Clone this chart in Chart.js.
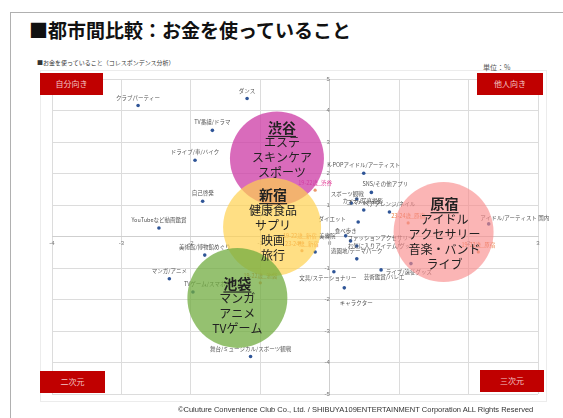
<!DOCTYPE html>
<html>
<head>
<meta charset="utf-8">
<script src="https://cdn.jsdelivr.net/npm/chart.js@4/dist/chart.umd.min.js"></script>
<style>
    html, body { margin: 0; padding: 0; background: #fff; }
    body { width: 563px; height: 418px; position: relative; overflow: hidden; font-family: "Noto Sans CJK JP", "Noto Sans", sans-serif; }
    #frame { position: absolute; left: 10px; top: 12px; width: 620px; height: 440px; border: 1px solid #b0b0b0; }
    #inner { position: absolute; left: 40px; top: 70px; width: 505px; height: 330px; border: 1px solid #ececec; }
    #diagram { position: absolute; left: 0; top: 0; }
    h1 { position: absolute; left: 29px; top: 16px; margin: 0; font-size: 19px; font-weight: bold; color: #111; white-space: nowrap; }
    .sub { position: absolute; left: 37px; top: 58px; font-size: 6px; color: #333; white-space: nowrap; }
    .unit { position: absolute; left: 483px; top: 62px; font-size: 7px; color: #555; }
    .tag { position: absolute; width: 63px; height: 22px; background: #c00000; color: #f3c6c6; font-size: 8px; line-height: 22px; text-align: center; }
    .copy { position: absolute; left: 178px; top: 405px; font-size: 7.5px; color: #333; white-space: nowrap; font-family: "Liberation Sans", Arial, sans-serif; }
</style>
</head>
<body>
<div id="frame"></div>
<div id="inner"></div>
<h1>■都市間比較：お金を使っていること</h1>
<div class="sub">■お金を使っていること（コレスポンデンス分析）</div>
<div class="unit">単位：%</div>
<canvas id="diagram" width="563" height="418"></canvas>
<div class="tag" style="left:40px;top:73px">自分向き</div>
<div class="tag" style="left:477px;top:73px;width:66px">他人向き</div>
<div class="tag" style="left:40px;top:371px;width:65px">二次元</div>
<div class="tag" style="left:480px;top:370px;width:64px">三次元</div>
<div class="copy">©Culuture Convenience Club Co., Ltd. / SHIBUYA109ENTERTAINMENT Corporation ALL Rights Reserved</div>
<script>
    // spending items (blue points)
    const itemLabels = [
        "クラブパーティー", "ダンス", "TV番組/ドラマ", "ドライブ/車/バイク", "自己啓発",
        "YouTubeなど動画鑑賞", "美術館/博物館めぐり", "マンガ/アニメ", "TVゲーム/スマホゲーム", "舞台/ミュージカル/スポーツ観戦",
        "K-POPアイドル/アーティスト", "SNS/その他アプリ", "スポーツ観戦", "カメラ/写真撮影", "ヘアアレンジ/ネイル",
        "コスメ/メイク", "ダイエット", "食べ歩き", "ファッションアクセサリー", "お気に入りアイテム/グッズ",
        "遊園地/テーマパーク", "文具/ステーショナリー", "芸術鑑賞/バレエ", "キャラクター", "ライブ/遠征グッズ",
        "アイドル/アーティスト 国内", "美容院"
    ];
    const itemX = [-2.76, -1.19, -1.69, -1.94, -1.83, -2.46, -1.80, -2.31, -1.97, -1.14,
        0.49, 0.60, 0.31, 0.39, 0.86, 0.49, 0.41, 0.23, 0.30, 0.39, 0.39, 0.06, 0.74, 0.21, 1.17, 2.29, -0.21];
    const itemY = [4.16, 4.38, 3.37, 2.42, 1.12, 0.27, -0.59, -1.34, -1.76, -3.81,
        2.01, 1.40, 1.06, 1.19, 0.78, 0.84, 0.46, 0.02, -0.14, -0.30, -0.71, -1.12, -1.06, -1.63, -0.86, 0.40, -0.49];

    // age x city points
    const groupLabels = ["19-22歳_渋谷", "19-22歳_新宿", "23-24歳_新宿", "19-22歳_池袋", "23-24歳_原宿", "19-22歳_原宿"];
    const groupX = [-0.21, -0.43, -0.40, -1.00, 1.13, 2.14];
    const groupY = [1.47, -0.20, -0.45, -1.47, 0.43, -0.49];

    // city circles
    const cityNames = ["渋谷", "新宿", "池袋", "原宿"];
    const cityX = [-0.76, -0.83, -1.33, 1.64];
    const cityY = [2.48, 0.30, -1.95, 0.14];
    const cityWords = [
        ["エステ", "スキンケア", "スポーツ"],
        ["健康食品", "サプリ", "映画", "旅行"],
        ["マンガ", "アニメ", "TVゲーム"],
        ["アイドル", "アクセサリー", "音楽・バンド", "ライブ"]
    ];

    const xRange = [-4, 3];
    const yRange = [-5, 5];

    // styles
    const circleRadius = [47, 49, 50, 50];
    const circleColors = ['rgba(205,60,165,0.76)', 'rgba(255,210,80,0.7)', 'rgba(112,172,62,0.74)', 'rgba(248,140,140,0.64)'];
    const textShift = { "渋谷": [5, -8], "新宿": [1, -2], "池袋": [0, 8], "原宿": [1, 2] };
    const labelShift = {
        "TVゲーム/スマホゲーム": [20, -8],
        "ダイエット": [-26, -3],
        "ファッションアクセサリー": [30, -3],
        "お気に入りアイテム/グッズ": [25, 0],
        "文具/ステーショナリー": [-6, 6],
        "芸術鑑賞/バレエ": [3, 7],
        "キャラクター": [12, 15],
        "ライブ/遠征グッズ": [-2, 8],
        "アイドル/アーティスト 国内": [26, -6],
        "SNS/その他アプリ": [14, -8],
        "美容院": [12, -16],
        "スポーツ観戦": [-4, -9],
        "カメラ/写真撮影": [6, 2],
        "食べ歩き": [0, -5]
    };

    const labelPlugin = {
        id: 'labels',
        beforeDatasetDraw(chart, args) {
            if (args.index !== 2) return;
            const ctx = chart.ctx;
            ctx.save();
            ctx.textAlign = 'center';
            ctx.textBaseline = 'middle';
            ctx.font = '5.5px "Noto Sans CJK JP"';
            chart.getDatasetMeta(0).data.forEach((pt, i) => {
                const s = labelShift[itemLabels[i]] || [0, -8];
                ctx.fillStyle = '#555';
                ctx.fillText(itemLabels[i], pt.x + s[0], pt.y + s[1]);
            });
            chart.getDatasetMeta(1).data.forEach((pt, i) => {
                ctx.fillStyle = groupLabels[i].endsWith('渋谷') ? 'rgb(225,60,150)' : 'rgb(232,120,60)';
                ctx.fillText(groupLabels[i], pt.x, pt.y - 7);
            });
            ctx.restore();
        },
        afterDatasetsDraw(chart) {
            const ctx = chart.ctx;
            ctx.save();
            ctx.textAlign = 'center';
            ctx.textBaseline = 'middle';
            ctx.fillStyle = '#222';
            chart.getDatasetMeta(2).data.forEach((pt, i) => {
                const lines = [cityNames[i]].concat(cityWords[i]);
                const sh = textShift[cityNames[i]];
                const lh = 15;
                let y = pt.y + sh[1] - (lines.length - 1) * lh / 2;
                const x = pt.x + sh[0];
                lines.forEach((t, j) => {
                    if (j === 0) {
                        ctx.font = 'bold 14px "Noto Sans CJK JP"';
                        ctx.fillText(t, x, y);
                        const w = ctx.measureText(t).width;
                        ctx.fillRect(x - w / 2, y + 8, w, 1.2);
                    } else {
                        ctx.font = '12px "Noto Sans CJK JP"';
                        ctx.fillText(t, x, y);
                    }
                    y += lh;
                });
            });
            ctx.restore();
        }
    };

    new Chart(
        document.getElementById("diagram"),
        {
            type: 'scatter',
            data: {
                datasets: [
                    {
                        label: '項目',
                        data: itemX.map((x, i) => ({ x: x, y: itemY[i] })),
                        backgroundColor: 'rgb(47,85,151)',
                        borderWidth: 0,
                        pointRadius: 1.8,
                        order: 2
                    },
                    {
                        label: '年代×エリア',
                        data: groupX.map((x, i) => ({ x: x, y: groupY[i] })),
                        backgroundColor: 'rgba(232,140,90,0.9)',
                        borderWidth: 0,
                        pointRadius: 1.6,
                        order: 1
                    },
                    {
                        type: 'bubble',
                        label: 'エリア',
                        data: cityX.map((x, i) => ({ x: x, y: cityY[i], r: circleRadius[i] })),
                        backgroundColor: circleColors,
                        borderWidth: 0,
                        order: 0
                    }
                ]
            },
            options: {
                responsive: false,
                animation: false,
                events: [],
                layout: {
                    autoPadding: false,
                    padding: { left: 52, right: 25, top: 79, bottom: 24 }
                },
                scales: {
                    x: {
                        type: 'linear',
                        min: xRange[0],
                        max: xRange[1],
                        position: { y: 0 },
                        grid: { color: '#dcdcdc', lineWidth: 1, drawTicks: false },
                        border: { color: '#cfcfcf' },
                        ticks: { stepSize: 1, color: '#777', padding: 3, font: { size: 6 } }
                    },
                    y: {
                        type: 'linear',
                        min: yRange[0],
                        max: yRange[1],
                        position: { x: 0 },
                        grid: { color: '#dcdcdc', lineWidth: 1, drawTicks: false },
                        border: { color: '#cfcfcf' },
                        ticks: { stepSize: 1, color: '#777', padding: 3, font: { size: 6 } }
                    }
                },
                plugins: {
                    legend: { display: false },
                    tooltip: { enabled: false }
                }
            },
            plugins: [labelPlugin]
        }
    );
</script>
</body>
</html>
